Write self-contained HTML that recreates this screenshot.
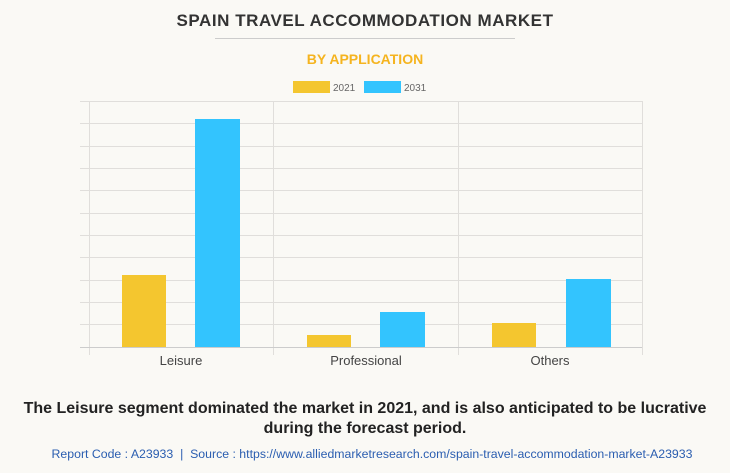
<!DOCTYPE html>
<html><head><style>
body{margin:0;width:730px;height:473px;background:#faf9f5;font-family:"Liberation Sans",sans-serif;position:relative;overflow:hidden}
.t{position:absolute;width:730px;text-align:center}
</style></head><body>
<div class="t" style="top:11px;font-size:17px;font-weight:bold;color:#333;letter-spacing:0.55px">SPAIN TRAVEL ACCOMMODATION MARKET</div>
<div style="position:absolute;left:215px;top:38px;width:300px;height:1px;background:#ccc"></div>
<div class="t" style="top:51px;font-size:14px;font-weight:bold;color:#f5b41f">BY APPLICATION</div>
<svg style="position:absolute;left:0;top:0" width="730" height="473">
<rect x="293" y="81" width="37" height="12" fill="#f4c62f"/>
<text x="333" y="91" font-size="10" fill="#666" font-family="Liberation Sans">2021</text>
<rect x="364" y="81" width="37" height="12" fill="#33c4fe"/>
<text x="404" y="91" font-size="10" fill="#666" font-family="Liberation Sans">2031</text>
<g stroke="#e0dedb" stroke-width="1">
<line x1="80" x2="642" y1="101.5" y2="101.5"/><line x1="80" x2="642" y1="123.5" y2="123.5"/>
<line x1="80" x2="642" y1="146.5" y2="146.5"/><line x1="80" x2="642" y1="168.5" y2="168.5"/>
<line x1="80" x2="642" y1="190.5" y2="190.5"/><line x1="80" x2="642" y1="213.5" y2="213.5"/>
<line x1="80" x2="642" y1="235.5" y2="235.5"/><line x1="80" x2="642" y1="257.5" y2="257.5"/>
<line x1="80" x2="642" y1="280.5" y2="280.5"/><line x1="80" x2="642" y1="302.5" y2="302.5"/>
<line x1="80" x2="642" y1="324.5" y2="324.5"/>
<line x1="89.5" x2="89.5" y1="101" y2="355"/><line x1="273.5" x2="273.5" y1="101" y2="355"/>
<line x1="458.5" x2="458.5" y1="101" y2="355"/><line x1="642.5" x2="642.5" y1="101" y2="355"/>
</g>
<line x1="80" x2="642" y1="347.5" y2="347.5" stroke="#ccc"/>
<rect x="122" y="275" width="44" height="72" fill="#f4c62f"/>
<rect x="195" y="119" width="45" height="228" fill="#33c4fe"/>
<rect x="307" y="335" width="44" height="12" fill="#f4c62f"/>
<rect x="380" y="312" width="45" height="35" fill="#33c4fe"/>
<rect x="492" y="323" width="44" height="24" fill="#f4c62f"/>
<rect x="566" y="279" width="45" height="68" fill="#33c4fe"/>
<g font-size="13" fill="#444" font-family="Liberation Sans" text-anchor="middle">
<text x="181" y="365">Leisure</text><text x="366" y="365">Professional</text><text x="550" y="365">Others</text>
</g>
</svg>
<div class="t" style="top:399px;font-size:16px;font-weight:bold;color:#222;line-height:20px">The Leisure segment dominated the market in 2021, and is also anticipated to be lucrative<br>during the forecast period.</div>
<div class="t" style="top:447px;font-size:12.3px;color:#2a5db0;padding-left:14px;box-sizing:border-box">Report Code : A23933 &nbsp;| &nbsp;Source : https://www.alliedmarketresearch.com/spain-travel-accommodation-market-A23933</div>
</body></html>
